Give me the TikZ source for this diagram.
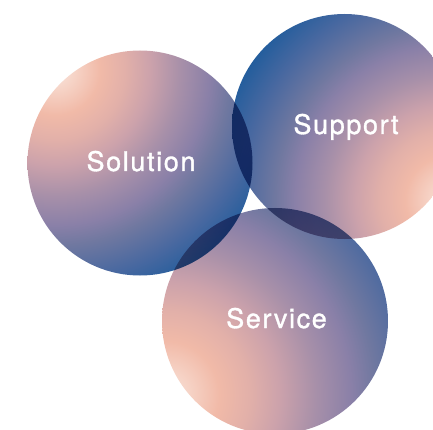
\documentclass[tikz,border=0pt]{standalone}
\usepackage{fontspec}
\newfontfamily\labelfont[LetterSpace=6,FakeBold=1.2]{TeX Gyre Heros}
\definecolor{ga}{HTML}{F9E6DE}
\definecolor{gb}{HTML}{F6D3C6}
\definecolor{gc}{HTML}{F1BAA8}
\definecolor{gd}{HTML}{E2B0A9}
\definecolor{ge}{HTML}{CCA2AB}
\definecolor{gf}{HTML}{A890A9}
\definecolor{gg}{HTML}{8A80A8}
\definecolor{gh}{HTML}{7078A0}
\definecolor{gi}{HTML}{4868A0}
\definecolor{gj}{HTML}{1F5C9C}
\pgfdeclareradialshading{solshade}{\pgfpointorigin}{color(0bp)=(ga); color(2bp)=(gb); color(4.5bp)=(gc); color(7bp)=(gd); color(9.5bp)=(ge); color(12.5bp)=(gf); color(15.5bp)=(gg); color(17.5bp)=(gh); color(21bp)=(gi); color(24.5bp)=(gj); color(50bp)=(gj)}
\pgfdeclareradialshading{supshade}{\pgfpointorigin}{color(0bp)=(ga); color(2bp)=(gb); color(4.5bp)=(gc); color(7bp)=(gd); color(9.5bp)=(ge); color(12.5bp)=(gf); color(15.5bp)=(gg); color(17.5bp)=(gh); color(21bp)=(gi); color(24.5bp)=(gj); color(50bp)=(gj)}
\pgfdeclareradialshading{sershade}{\pgfpointorigin}{color(0bp)=(ga); color(2.4bp)=(gb); color(5.4bp)=(gc); color(8.4bp)=(gd); color(11.4bp)=(ge); color(15bp)=(gf); color(18.6bp)=(gg); color(21bp)=(gh); color(25.2bp)=(gi); color(29.4bp)=(gj); color(50bp)=(gj)}
\tikzset{
  labeltext/.style={text=white, inner sep=0pt, anchor=base, font=\labelfont\fontsize{27}{32}\selectfont}
}
\begin{document}
\begin{tikzpicture}[x=1pt,y=-1pt]
\fill[white] (0,0) rectangle (433,430);
\useasboundingbox (0,0) rectangle (433,430);
\clip (0,0) rectangle (433,430);
\coordinate (solc) at (140,163);
\coordinate (solf) at (55,70);
\coordinate (supc) at (344.5,126.5);
\coordinate (supf) at (450,200);
\coordinate (serc) at (275,321);
\coordinate (serf) at (165,395);
\begin{scope}[blend mode=multiply]
  \begin{scope}
    \clip (solc) circle (112.5);
    \shade[shading=solshade] (solf) circle (250);
  \end{scope}
  \begin{scope}
    \clip (supc) circle (112.5);
    \shade[shading=supshade] (supf) circle (250);
  \end{scope}
  \begin{scope}
    \clip (serc) circle (113);
    \shade[shading=sershade] (serf) circle (250);
  \end{scope}
\end{scope}
\node[labeltext] (soltext) at (141,171) {Solution};
\node[labeltext] (suptext) at (346,134) {Support};
\node[labeltext] (sertext) at (276.5,328) {Service};
\end{tikzpicture}
\end{document}
